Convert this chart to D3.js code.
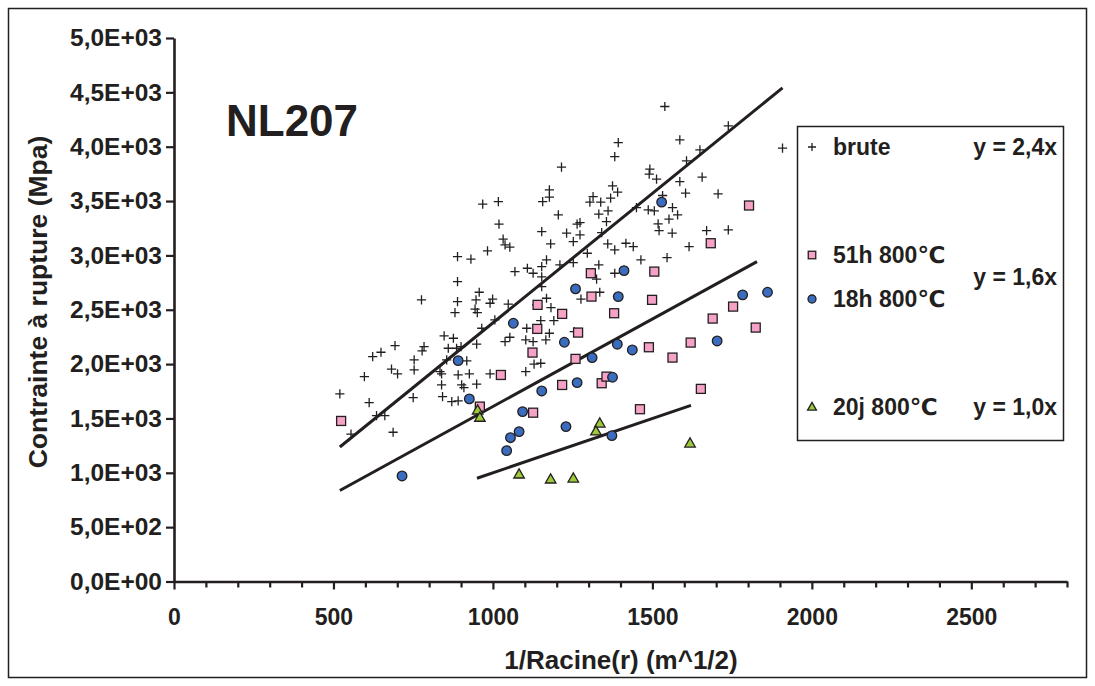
<!DOCTYPE html>
<html><head><meta charset="utf-8">
<script src="https://cdn.jsdelivr.net/npm/d3@7"></script>
<style>
body{margin:0;background:#fff}
svg{display:block}
text{font-family:"Liberation Sans",Arial,"DejaVu Sans",sans-serif;font-weight:bold;fill:#231f20}
</style>
</head><body>
<svg id="chart" width="1095" height="686"></svg>
<script>
// ---------- data ----------
const brute = [[889,2989],[931,2965],[983,3042],[889,2759],[957,2661],[776,2591],[889,2575],[947,2591],[999,2597],[991,2560],[881,2474],[944,2505],[951,2474],[1006,2407],[965,2330],[847,2259],[876,2238],[693,2170],[649,2109],[623,2069],[784,2161],[778,2121],[753,2038],[860,2146],[886,2146],[900,2161],[855,2038],[918,2029],[949,2183],[682,1953],[701,1910],[753,1946],[597,1885],[834,1931],[839,1910],[891,1900],[926,1910],[991,1910],[520,1726],[612,1646],[839,1808],[902,1808],[909,1784],[949,1815],[842,1701],[871,1655],[891,1661],[750,1692],[635,1526],[661,1526],[687,1373],[555,1355],
[1539,4370],[1393,4038],[1382,3909],[1586,4063],[1649,3971],[1607,3870],[1738,4192],[1215,3812],[1492,3793],[1490,3747],[1513,3701],[1586,3679],[1656,3720],[1375,3640],[1391,3582],[1177,3603],[1177,3536],[1156,3495],[1314,3541],[1304,3490],[1338,3490],[1369,3527],[1604,3573],[1706,3566],[1532,3551],[968,3471],[1017,3495],[1205,3373],[1332,3379],[1361,3410],[1450,3440],[1487,3419],[1506,3410],[1563,3440],[1552,3333],[1579,3373],[1019,3287],[1153,3219],[1264,3287],[1273,3302],[1356,3311],[1518,3290],[1521,3228],[1562,3205],[1670,3228],[1738,3235],[1231,3205],[1273,3189],[1341,3210],[1032,3149],[1038,3097],[1053,3076],[1181,3106],[1252,3127],[1360,3106],[1417,3112],[1440,3081],[1382,3051],[1615,3081],[1296,3020],[1464,2959],[1546,2980],[1168,2959],[1153,2897],[1108,2882],[1069,2851],[1126,2836],[1210,2913],[1252,2934],[1332,2913],[1382,2836],[1153,2802],[1908,3987],[1325,2781],[1335,2661],[1276,2597],[1153,2713],[1168,2606],[1182,2520],[1137,2545],[1048,2551],[1150,2400],[1191,2400],[1106,2330],[1177,2284],[1053,2247],[1038,2207],[1103,2223],[1126,2207],[1166,2223],[1255,2299],[1129,1999],[1150,2008],[1103,1931]];

const h51 = [[524,1477],[959,1609],[1307,2836],[1506,2851],[1683,3112],[1803,3459],[1309,2621],[1499,2591],[1140,2545],[1217,2462],[1380,2468],[1139,2324],[1267,2290],[1124,2106],[1259,2048],[1025,1900],[1217,1808],[1341,1824],[1356,1885],[1489,2155],[1563,2060],[1620,2198],[1689,2419],[1753,2529],[1652,1772],[1461,1585],[1126,1553],[1824,2336]];

const h18 = [[715,971],[891,2032],[926,1680],[1529,3490],[1411,2860],[1259,2692],[1393,2621],[1064,2376],[1224,2201],[1390,2183],[1437,2130],[1311,2060],[1703,2213],[1375,1879],[1264,1830],[1153,1753],[1093,1563],[1082,1379],[1055,1323],[1043,1204],[1229,1425],[1373,1342],[1783,2637],[1861,2661]];

const j20 = [[952,1569],[959,1502],[1082,980],[1181,934],[1252,943],[1335,1449],[1323,1376],[1618,1265]];

// trend lines: fitted slope (as drawn) and x-extent
const trendSlopes = [2.38, 1.61, 1.0];
const trendStart  = [520, 520, 950];
const trendEnd    = [1908, 1828, 1621];
const trendLabels = ["y = 2,4x", "y = 1,6x", "y = 1,0x"];

const seriesNames = ["brute", "51h 800\u2103", "18h 800\u2103", "20j 800\u2103"];

const xTicks = d3.range(0, 2801, 100);
const xTickLabels = ["0","500","1000","1500","2000","2500"];
const yTicks = d3.range(0, 5001, 500);
const yTickLabels = ["0,0E+00","5,0E+02","1,0E+03","1,5E+03","2,0E+03","2,5E+03","3,0E+03","3,5E+03","4,0E+03","4,5E+03","5,0E+03"];

// ---------- drawing ----------
const svg = d3.select("#chart");
const INK = "#231f20";

svg.append("rect").attr("x",8.5).attr("y",8.5).attr("width",1078).attr("height",669)
  .attr("fill","#fff").attr("stroke",INK).attr("stroke-width",1.5);

const x = d3.scaleLinear().domain([0,2800]).range([174,1067]);
const y = d3.scaleLinear().domain([0,5000]).range([581.5,38]);

// axes
const xAxis = d3.axisBottom(x).tickValues(xTicks).tickSize(7).tickSizeOuter(0).tickPadding(20)
  .tickFormat(v => (v % 500 === 0 && v <= 2500) ? xTickLabels[v/500] : "");
const gx = svg.append("g").attr("transform",`translate(0,${y(0)})`).call(xAxis);
const yAxis = d3.axisLeft(y).tickValues(yTicks).tickSize(8).tickSizeOuter(0).tickPadding(4)
  .tickFormat((v,i) => yTickLabels[i]);
const gy = svg.append("g").attr("transform",`translate(${x(0)},0)`).call(yAxis);
[gx,gy].forEach(g=>{
  g.select(".domain").attr("stroke",INK).attr("stroke-width",2.6);
  g.selectAll(".tick line").attr("stroke",INK).attr("stroke-width",2.2);
  g.selectAll(".tick text").attr("fill",INK)
   .style("font-family",'"Liberation Sans",Arial,sans-serif').style("font-weight","bold");
});
gx.selectAll(".tick text").style("font-size","23px");
gy.selectAll(".tick text").style("font-size","24.5px");
gx.selectAll(".tick line").attr("y2", d => d % 500 === 0 ? 8 : 6);

// axis titles
svg.append("text").attr("x",621).attr("y",669).attr("text-anchor","middle")
  .style("font-size","26px").text("1/Racine(r) (m^1/2)");
svg.append("text").attr("transform","translate(47,302) rotate(-90)").attr("text-anchor","middle")
  .style("font-size","26.5px").text("Contrainte \u00e0 rupture (Mpa)");

// chart title
svg.append("text").attr("x",226).attr("y",136).style("font-size","44px").text("NL207");

// trend lines
const line = d3.line().x(d=>x(d[0])).y(d=>y(d[1]));
trendSlopes.forEach((s,i)=>{
  svg.append("path").datum([[trendStart[i], s*trendStart[i]],[trendEnd[i], s*trendEnd[i]]])
    .attr("d",line).attr("stroke",INK).attr("stroke-width",3).attr("fill","none");
});

// markers
const crossPath = r => `M${-r},0H${r}M0,${-r}V${r}`;
function drawCross(g, px, py, r){
  g.append("path").attr("transform",`translate(${px},${py})`).attr("d",crossPath(r))
   .attr("stroke",INK).attr("stroke-width",1.3).attr("fill","none");
}
function drawSquare(g, px, py, s){
  g.append("rect").attr("x",px-s/2).attr("y",py-s/2).attr("width",s).attr("height",s)
   .attr("fill","#f5a2c6").attr("stroke",INK).attr("stroke-width",1.3);
}
function drawCircle(g, px, py, r){
  g.append("circle").attr("cx",px).attr("cy",py).attr("r",r)
   .attr("fill","#3a6cbf").attr("stroke",INK).attr("stroke-width",1.3);
}
function drawTri(g, px, py, size){
  g.append("path").attr("transform",`translate(${px},${py})`)
   .attr("d",d3.symbol().type(d3.symbolTriangle).size(size)())
   .attr("fill","#9bc93a").attr("stroke",INK).attr("stroke-width",1.3);
}
const gm = svg.append("g");
brute.forEach(d=>drawCross(gm, x(d[0]), y(d[1]), 4.6));
h51.forEach(d=>drawSquare(gm, x(d[0]), y(d[1]), 9));
h18.forEach(d=>drawCircle(gm, x(d[0]), y(d[1]), 4.8));
j20.forEach(d=>drawTri(gm, x(d[0]), y(d[1]), 48));

// legend
const lg = svg.append("g");
lg.append("rect").attr("x",797.5).attr("y",126.5).attr("width",266).attr("height",314)
  .attr("fill","#fff").attr("stroke",INK).attr("stroke-width",1.5);
const legRows = [147, 255, 299, 407];
drawCross(lg, 812, legRows[0], 4);
drawSquare(lg, 812, legRows[1], 7.5);
drawCircle(lg, 812, legRows[2], 4);
drawTri(lg, 812, legRows[3]+0.5, 34);
seriesNames.forEach((n,i)=>{
  lg.append("text").attr("x",833).attr("y",legRows[i]+8).style("font-size","23px").text(n);
});
const eqRows = [147, 277, 407];
trendLabels.forEach((t,i)=>{
  lg.append("text").attr("x",1057).attr("y",eqRows[i]+8).attr("text-anchor","end")
    .style("font-size","23px").text(t);
});
</script>
</body></html>
